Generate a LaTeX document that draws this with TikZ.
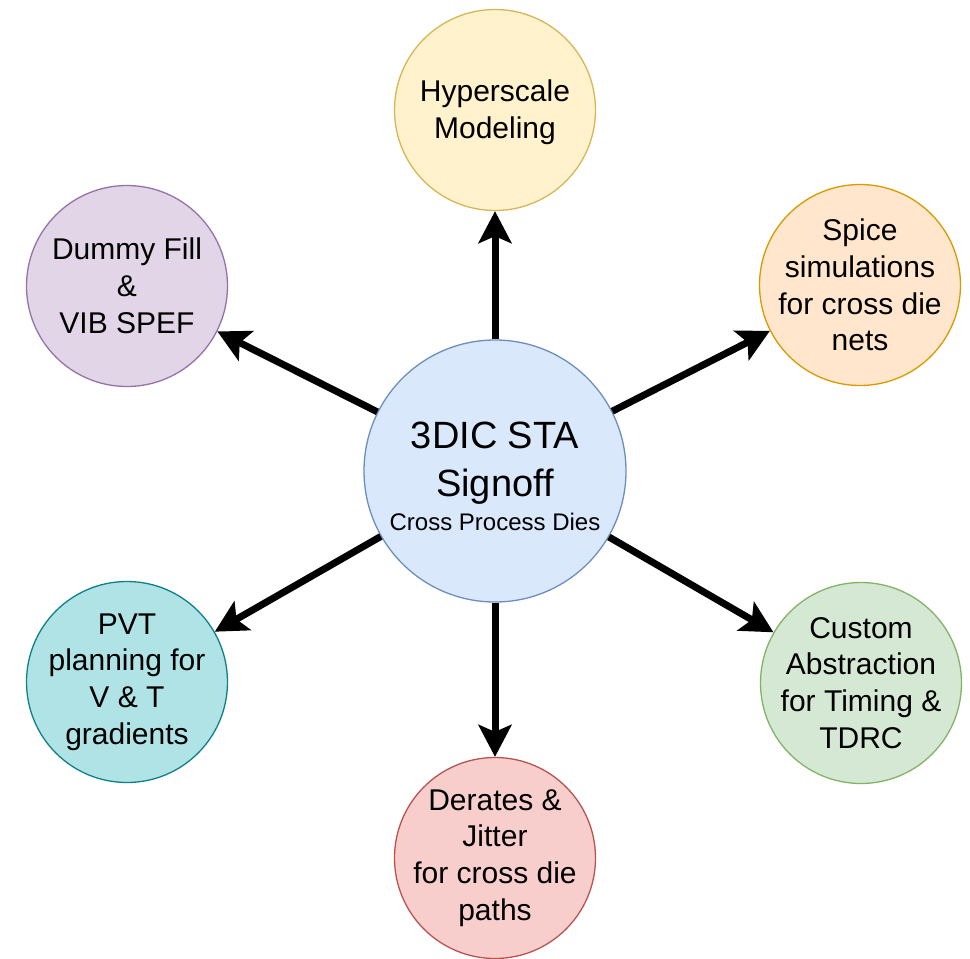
\documentclass[tikz,border=0pt]{standalone}
\usepackage{fontspec}
\setmainfont{Liberation Sans}
\usetikzlibrary{arrows.meta}
\definecolor{cfill}{HTML}{DAE8FC}\definecolor{cdraw}{HTML}{6C8EBF}
\definecolor{yfill}{HTML}{FFF2CC}\definecolor{ydraw}{HTML}{D6B656}
\definecolor{pfill}{HTML}{E1D5E7}\definecolor{pdraw}{HTML}{9673A6}
\definecolor{ofill}{HTML}{FFE6CC}\definecolor{odraw}{HTML}{D79B00}
\definecolor{tfill}{HTML}{B0E3E6}\definecolor{tdraw}{HTML}{0E8088}
\definecolor{gfill}{HTML}{D5E8D4}\definecolor{gdraw}{HTML}{82B366}
\definecolor{rfill}{HTML}{F8CECC}\definecolor{rdraw}{HTML}{B85450}
\tikzset{
  sat/.style={circle, minimum size=201pt, inner sep=-20pt, align=center, line width=1.3pt,
    font=\fontsize{30}{36.8}\selectfont},
  hub/.style={circle, minimum size=262pt, inner sep=-20pt, align=center, line width=1.3pt,
    draw=cdraw, fill=cfill, font=\fontsize{38}{48}\selectfont},
  arr/.style={-{Stealth[length=32pt,width=33pt,inset=7pt]}, line width=7pt, black}
}
\begin{document}
\begin{tikzpicture}[x=1pt,y=-1pt]
\useasboundingbox (0,0) rectangle (970,959);
\node[hub] (c) at (495,471) {\rule{0pt}{38pt}3DIC STA\\Signoff\\[-14pt]{\fontsize{24}{29}\selectfont Cross Process Dies}};
\node[sat, draw=ydraw, fill=yfill] (top) at (495,110) {\rule{0pt}{26pt}Hyperscale\\Modeling};
\node[sat, draw=pdraw, fill=pfill] (tl) at (127,286) {Dummy Fill\\\&\\VIB SPEF};
\node[sat, draw=odraw, fill=ofill] (tr) at (860,285) {Spice\\simulations\\for cross die\\nets};
\node[sat, draw=tdraw, fill=tfill] (bl) at (127,682) {PVT\\planning for\\V \& T\\gradients};
\node[sat, draw=gdraw, fill=gfill] (br) at (861,683) {Custom\\Abstraction\\for Timing \&\\TDRC};
\node[sat, draw=rdraw, fill=rfill] (bot) at (495,858) {Derates \&\\Jitter\\for cross die\\paths};
\draw[arr] (c) -- (top);
\draw[arr] (c) -- (tl);
\draw[arr] (c) -- (tr);
\draw[arr] (c) -- (bl);
\draw[arr] (c) -- (br);
\draw[arr] (c) -- (bot);
\end{tikzpicture}
\end{document}
